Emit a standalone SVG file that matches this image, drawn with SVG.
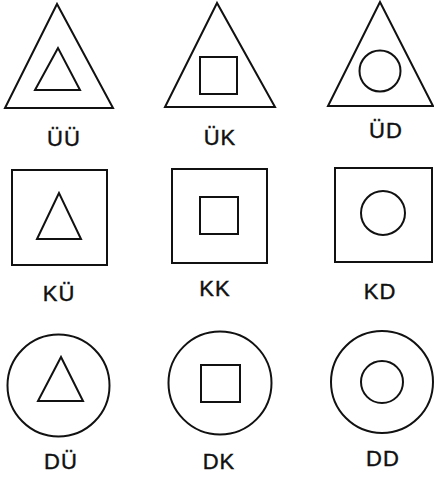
<svg xmlns="http://www.w3.org/2000/svg" width="434" height="481" viewBox="0 0 434 481">
<style>
.s{fill:none;stroke:#111;stroke-width:2;stroke-linejoin:miter}
.t{font-family:"Liberation Sans",Arial,sans-serif;font-size:22px;fill:#111;stroke:#111;stroke-width:0.4;text-anchor:middle;letter-spacing:1px}
</style>
<rect width="434" height="481" fill="#fff"/>
<g id="UU">
<polygon class="s" points="57,4 5,108 113,108"/>
<polygon class="s" points="58,48 35,90 80,90"/>
<text class="t" x="64" y="146">ÜÜ</text>
</g>
<g id="UK">
<polygon class="s" points="217,3 165,107 275,107"/>
<rect class="s" x="200" y="57" width="37" height="37"/>
<text class="t" x="220" y="145">ÜK</text>
</g>
<g id="UD">
<polygon class="s" points="380,2 328,106 433,106"/>
<circle class="s" cx="380" cy="71" r="20.5"/>
<text class="t" x="386" y="138">ÜD</text>
</g>
<g id="KU">
<rect class="s" x="12" y="170" width="95" height="95"/>
<polygon class="s" points="59,193 37,239 81,239"/>
<text class="t" x="59" y="301">KÜ</text>
</g>
<g id="KK">
<rect class="s" x="172" y="169" width="95" height="94"/>
<rect class="s" x="200" y="197" width="38" height="37"/>
<text class="t" x="215" y="296">KK</text>
</g>
<g id="KD">
<rect class="s" x="335" y="168" width="97" height="94"/>
<circle class="s" cx="383" cy="213" r="22"/>
<text class="t" x="380" y="299">KD</text>
</g>
<g id="DU">
<circle class="s" cx="58.5" cy="385.5" r="51"/>
<polygon class="s" points="61,357 38,401 83,401"/>
<text class="t" x="61" y="469">DÜ</text>
</g>
<g id="DK">
<circle class="s" cx="220" cy="383" r="51.5"/>
<rect class="s" x="201" y="365" width="39" height="37"/>
<text class="t" x="219" y="469">DK</text>
</g>
<g id="DD">
<circle class="s" cx="382" cy="382" r="51"/>
<circle class="s" cx="382" cy="382" r="21"/>
<text class="t" x="383" y="466">DD</text>
</g>
<g id="connectors"></g>
</svg>
